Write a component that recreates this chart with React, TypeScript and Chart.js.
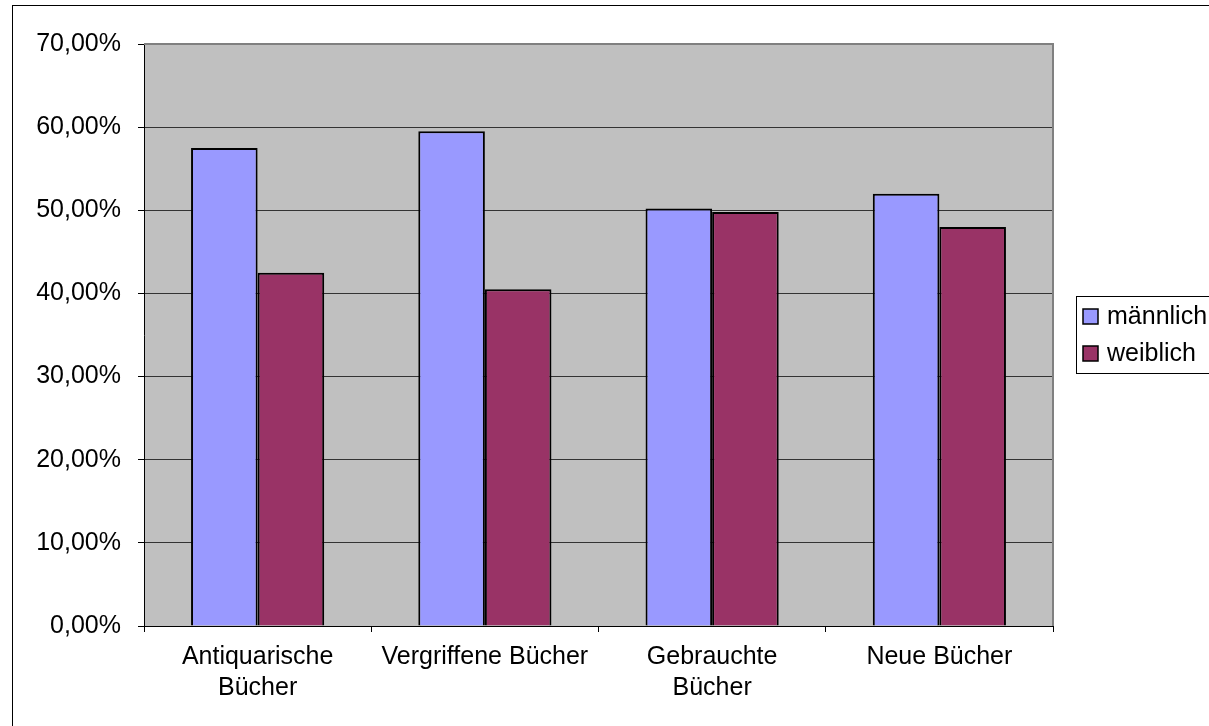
import React, { useEffect, useRef } from 'react';
import { Chart, registerables } from 'chart.js';

Chart.register(...registerables);

const categories: (string | string[])[] = [
  ['Antiquarische', 'Bücher'],
  'Vergriffene Bücher',
  ['Gebrauchte', 'Bücher'],
  'Neue Bücher',
];
const seriesNames = ['männlich', 'weiblich'];
const maleValues = [57.5, 59.5, 50.2, 52.0];
const femaleValues = [42.5, 40.5, 49.8, 48.0];
const seriesColors = ['#9999FF', '#993366'];
const yMin = 0;
const yMax = 70;
const yStep = 10;

const FONT = "'Liberation Sans', Arial, sans-serif";

const framePlugin = {
  id: 'frame',
  beforeDraw(chart: any) {
    const { ctx, width, height, chartArea } = chart;
    ctx.save();
    ctx.fillStyle = '#ffffff';
    ctx.fillRect(0, 0, width, height);
    ctx.strokeStyle = '#000000';
    ctx.lineWidth = 1;
    ctx.strokeRect(12.5, 5.5, width + 50, height + 50);
    ctx.fillStyle = '#C0C0C0';
    ctx.fillRect(chartArea.left, chartArea.top, chartArea.right - chartArea.left, chartArea.bottom - chartArea.top);
    ctx.restore();
  },
  afterDraw(chart: any) {
    const { ctx, chartArea } = chart;
    ctx.save();
    ctx.strokeStyle = '#808080';
    ctx.lineWidth = 2;
    ctx.beginPath();
    ctx.moveTo(chartArea.left, chartArea.top);
    ctx.lineTo(chartArea.right, chartArea.top);
    ctx.lineTo(chartArea.right, chartArea.bottom);
    ctx.stroke();

    // legend
    const lx = 1076.5;
    const ly = 296.5;
    ctx.lineWidth = 1;
    ctx.strokeStyle = '#000000';
    ctx.fillStyle = '#ffffff';
    ctx.fillRect(lx, ly, 200, 77);
    ctx.strokeRect(lx, ly, 200, 77);
    ctx.font = `25px ${FONT}`;
    ctx.textBaseline = 'alphabetic';
    ctx.textAlign = 'left';
    chart.data.datasets.forEach((ds: any, i: number) => {
      const sy = 309 + i * 37;
      ctx.fillStyle = ds.backgroundColor;
      ctx.fillRect(1083, sy, 15, 15);
      ctx.strokeStyle = '#000000';
      ctx.lineWidth = 1.5;
      ctx.strokeRect(1083, sy, 15, 15);
      ctx.fillStyle = '#000000';
      ctx.fillText(ds.label, 1107, sy + 15);
    });
    ctx.restore();
  },
};

export default function App() {
  const ref = useRef<HTMLCanvasElement>(null);
  useEffect(() => {
    document.body.style.margin = '0';
    const chart = new Chart(ref.current!, {
      type: 'bar',
      data: {
        labels: categories,
        datasets: [
          {
            label: seriesNames[0],
            data: maleValues,
            backgroundColor: seriesColors[0],
            borderColor: '#000000',
            borderWidth: 2,
            categoryPercentage: 0.586,
            barPercentage: 1,
          },
          {
            label: seriesNames[1],
            data: femaleValues,
            backgroundColor: seriesColors[1],
            borderColor: '#000000',
            borderWidth: 2,
            categoryPercentage: 0.586,
            barPercentage: 1,
          },
        ],
      },
      options: {
        animation: false,
        responsive: true,
        maintainAspectRatio: false,
        devicePixelRatio: 1,
        layout: { padding: { top: 44, right: 156, left: 0, bottom: 0 } },
        plugins: {
          legend: { display: false },
          tooltip: { enabled: false },
        },
        scales: {
          x: {
            grid: {
              offset: true,
              drawOnChartArea: false,
              drawTicks: true,
              tickLength: 6,
              tickColor: '#000000',
              color: '#000000',
            },
            border: { display: true, color: '#000000', width: 1 },
            ticks: {
              color: '#000000',
              font: { family: FONT, size: 25, lineHeight: 1.24 },
              padding: 10,
              maxRotation: 0,
              autoSkip: false,
            },
            afterFit(scale: any) {
              scale.height = 100;
            },
          },
          y: {
            min: yMin,
            max: yMax,
            grid: {
              color: '#333333',
              drawTicks: true,
              tickLength: 6,
              tickColor: '#000000',
            },
            border: { display: true, color: '#000000', width: 1 },
            ticks: {
              stepSize: yStep,
              color: '#000000',
              padding: 17,
              font: { family: FONT, size: 25 },
              callback: (v: any) => Number(v).toFixed(2).replace('.', ',') + '%',
            },
            afterFit(scale: any) {
              scale.width = 144;
            },
          },
        },
      },
      plugins: [framePlugin],
    });
    return () => chart.destroy();
  }, []);
  return (
    <div style={{ position: 'fixed', left: 0, top: 0, width: 1209, height: 726 }}>
      <canvas ref={ref} />
    </div>
  );
}
